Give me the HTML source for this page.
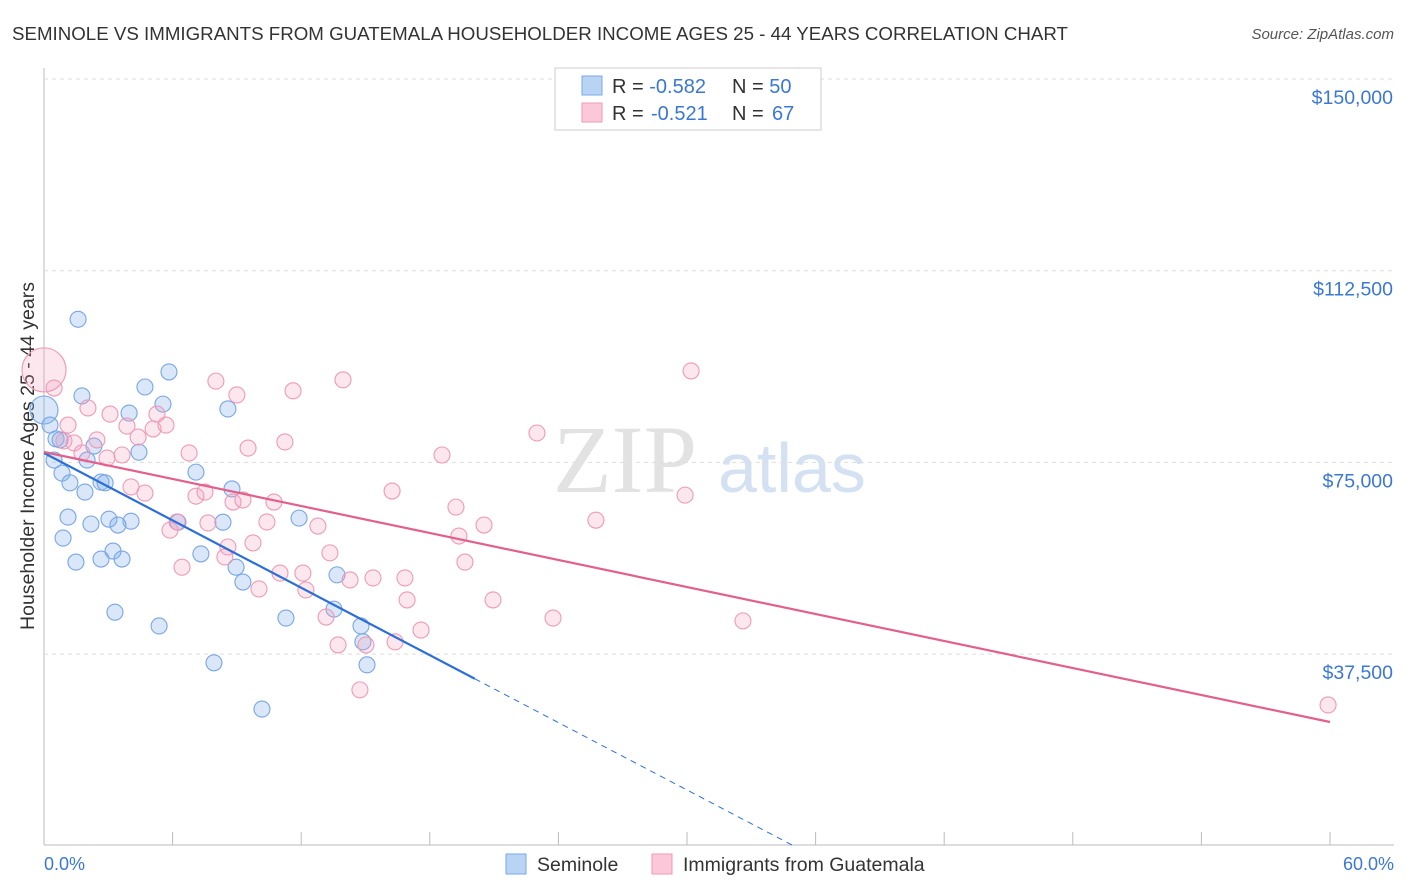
<!DOCTYPE html>
<html><head><meta charset="utf-8"><style>
body{margin:0;background:#fff;font-family:"Liberation Sans",sans-serif;}
#wrap{position:relative;width:1406px;height:892px;overflow:hidden;}
</style></head><body>
<div id="wrap">
<svg id="svg" width="1406" height="892" xmlns="http://www.w3.org/2000/svg" font-family="Liberation Sans, sans-serif">
<text x="12" y="40" font-size="18" fill="#333" textLength="1056" lengthAdjust="spacingAndGlyphs">SEMINOLE VS IMMIGRANTS FROM GUATEMALA HOUSEHOLDER INCOME AGES 25 - 44 YEARS CORRELATION CHART</text>
<text x="1394" y="39" font-size="15" fill="#555" font-style="italic" text-anchor="end">Source: ZipAtlas.com</text>
<text x="553" y="492" font-size="96" fill="#e2e2e2" font-family="Liberation Serif, serif">ZIP</text>
<text x="718" y="492" font-size="70" fill="#d3e1f3">atlas</text>
<text transform="translate(34,456) rotate(-90)" font-size="19.5" fill="#333" text-anchor="middle">Householder Income Ages 25 - 44 years</text>
<g id="grid"></g><g id="marks"></g>
<rect x="555" y="68" width="266" height="62" fill="#fff" stroke="#ccc"/>
<rect x="582" y="76" width="20" height="19" fill="#b9d3f5" stroke="#7aa8e8"/>
<rect x="582" y="103" width="20" height="19" fill="#fac8d8" stroke="#f09ab5"/>
<text x="612" y="93" font-size="20" fill="#333">R = <tspan fill="#3a78d4">-0.582</tspan>  <tspan x="732">N = </tspan><tspan fill="#3a78d4">50</tspan></text>
<text x="612" y="120" font-size="20" fill="#333">R = <tspan x="651" fill="#3a78d4">-0.521</tspan><tspan x="732">N = </tspan><tspan x="772" fill="#3a78d4">67</tspan></text>
<text x="44" y="870" font-size="18" fill="#3a78d4">0.0%</text>
<text x="1394" y="870" font-size="18" fill="#3a78d4" text-anchor="end">60.0%</text>
<rect x="506" y="854" width="20" height="20" fill="#b9d3f5" stroke="#7aa8e8"/>
<text x="537" y="871" font-size="19.5" fill="#333">Seminole</text>
<rect x="652" y="854" width="20" height="20" fill="#fac8d8" stroke="#f09ab5"/>
<text x="683" y="871" font-size="19.5" fill="#333">Immigrants from Guatemala</text>
</svg></div>
<script>
const yTicks=[150000,112500,75000,37500];
const yTickLabels=["$150,000","$112,500","$75,000","$37,500"];
const blueX=[1.59,5.83,4.71,1.77,5.55,8.58,3.97,0,0.28,0.56,0.75,2.33,4.43,2.01,0.47,7.09,0.84,1.21,2.66,2.85,1.91,8.77,1.12,6.25,11.9,3.03,4.06,2.19,3.45,8.35,0.89,3.22,7.32,1.49,2.66,3.64,8.96,13.67,9.28,13.53,3.31,11.29,5.37,14.79,14.88,15.07,7.93,10.17];
const blueY=[103000,92700,89750,88000,86400,85450,84650,85250,82300,79600,79400,78200,77000,75450,75450,73100,72900,71000,71150,71000,69200,69800,64300,63300,64100,63900,63500,62950,62750,63300,60200,57650,57100,55500,56100,56100,54500,53000,51600,46300,45700,44550,43000,43000,39900,35400,35800,26750];
const pinkX=[0,0.47,1.12,2.05,3.08,3.87,5.27,5.69,0.93,1.40,2.47,3.64,4.39,5.09,1.77,2.94,6.77,8.02,9.0,11.62,13.95,11.24,9.52,4.06,4.71,7.09,7.51,8.82,9.28,10.73,7.65,6.21,5.88,10.40,12.78,8.58,8.44,9.75,16.24,18.57,23.0,30.19,29.91,25.75,19.22,20.53,19.36,19.64,6.44,12.08,13.34,14.28,15.35,16.84,16.94,10.03,11.01,12.22,13.16,13.72,15.02,16.38,17.59,14.74,20.95,23.75,32.61,59.91];
const pinkY=[93100,89550,82300,85650,84450,82100,84450,82300,79200,78800,79400,76450,79950,81550,76850,75850,76850,90900,88200,89000,91150,79000,77800,70200,69000,68400,69200,67250,67650,67250,63150,63350,61750,63350,62550,58450,56500,59250,69400,76450,80750,92900,68600,63700,66250,62750,60600,55500,54500,53350,57300,52000,52400,52400,48100,50250,53350,50050,44750,39300,39300,39900,42200,30500,48100,44550,44000,27550];
const blueTrend=[76840,-55000], blueSolidEnd=20.1;
const pinkTrend=[77035,24218];
const X=p=>44+p/60*1286, Y=v=>79+(150000-v)/37500*191.7;
const NS="http://www.w3.org/2000/svg";
function mk(t,a,parent){const e=document.createElementNS(NS,t);for(const k in a)e.setAttribute(k,a[k]);parent.appendChild(e);return e;}
const grid=document.getElementById('grid'),marks=document.getElementById('marks');
let l=mk('line',{x1:44,y1:68,x2:44,y2:845,stroke:'#bbb'},grid);


l=mk('line',{x1:44,y1:845,x2:1394,y2:845,stroke:'#bbb'},grid);


for(let i=0;i<=10;i++){const t=mk('line',{x1:X(i*6),x2:X(i*6),y1:832,y2:845,stroke:'#bbb'},grid);

}
yTicks.forEach((v,i)=>{const g=mk('line',{x1:44,x2:1394,y1:Y(v),y2:Y(v),stroke:'#ddd','stroke-dasharray':'4,4'},grid);


const t=mk('text',{x:1393,y:Y(v)+25,'font-size':19.5,fill:'#3a78d4','text-anchor':'end'},grid);t.textContent=yTickLabels[i];

});
blueX.forEach((x,i)=>{const c=mk('circle',{cx:X(x),cy:Y(blueY[i]),r:x===0?14:8,fill:'rgba(130,175,235,0.3)',stroke:'#78a6e4','stroke-width':1.1},marks);

});
pinkX.forEach((x,i)=>{const c=mk('circle',{cx:X(x),cy:Y(pinkY[i]),r:x===0?22:8,fill:'rgba(245,160,190,0.25)',stroke:'#ee9ab5','stroke-width':1.1},marks);

});
const bY=p=>blueTrend[0]+(blueTrend[1]-blueTrend[0])*p/60;
l=mk('line',{x1:X(0),y1:Y(bY(0)),x2:X(blueSolidEnd),y2:Y(bY(blueSolidEnd)),stroke:'#2c6fd8','stroke-width':2.2},marks);


const endP=(0-blueTrend[0])/(blueTrend[1]-blueTrend[0])*60;
l=mk('line',{x1:X(blueSolidEnd),y1:Y(bY(blueSolidEnd)),x2:X(endP),y2:Y(0),stroke:'#2c6fd8','stroke-width':1,'stroke-dasharray':'6,5'},marks);


l=mk('line',{x1:X(0),y1:Y(pinkTrend[0]),x2:X(60),y2:Y(pinkTrend[1]),stroke:'#e3608c','stroke-width':2.2},marks);


</script>
</body></html>
